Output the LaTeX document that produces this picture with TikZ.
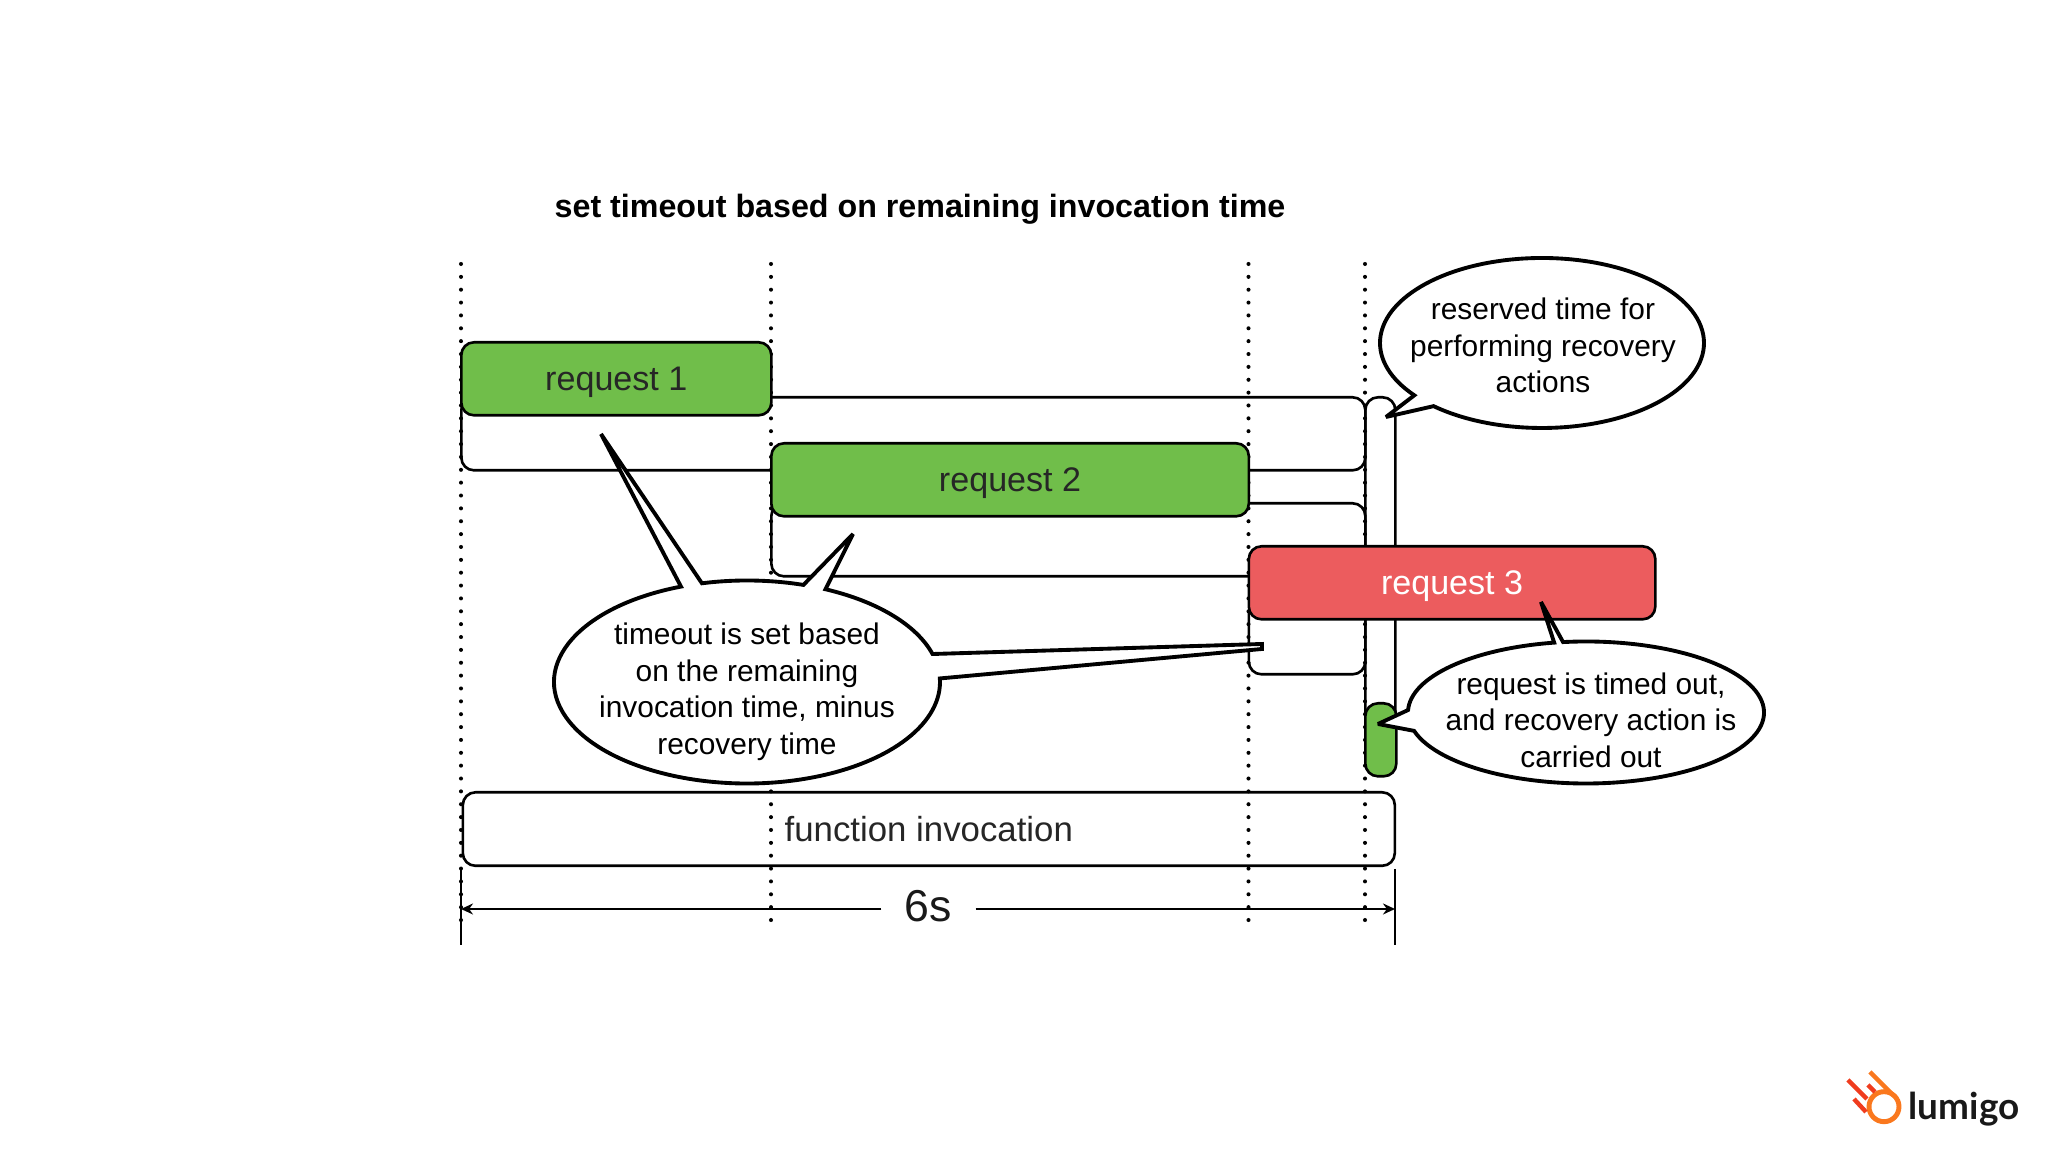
\documentclass[tikz,border=0pt]{standalone}
\usepackage{fontspec}
\setmainfont{Liberation Sans}
\newfontfamily\logofont{Lato}
\usepackage{xcolor}
\usetikzlibrary{positioning,arrows.meta,calc}
\definecolor{reqgreen}{RGB}{112,190,74}
\definecolor{reqred}{RGB}{236,92,94}
\definecolor{lumired}{RGB}{240,60,30}
\definecolor{lumiorange}{RGB}{250,120,30}
\newcommand{\guide}[2]{\coordinate (#1t) at (#2,8.88); \coordinate (#1b) at (#2,2.31); \draw[dots] (#1t) -- (#1b);}

\begin{document}
\begin{tikzpicture}[
  span/.style={draw, rounded corners=3.6pt, line width=0.75pt, inner sep=0pt, anchor=north west},
  req/.style={span, fill=reqgreen, font=\fontsize{9.7}{12}\selectfont, text=black!85, text depth=0pt},
  dots/.style={line width=1.15pt, line cap=round, dash pattern=on 0pt off 3.66pt},
  balloon/.style={draw, line width=1.1pt, fill=white, miter limit=3},
  say/.style={font=\fontsize{8.5}{10.4}\selectfont, align=center, inner sep=0pt},
  dimarr/.style={-{Stealth[length=1.2mm,width=1.1mm]}, line width=0.6pt},
  tickline/.style={line width=0.6pt},
  streak/.style={line width=1.25pt, lumired},
]
\useasboundingbox (0,0) rectangle (20.48,11.52);
\node[font=\fontsize{9.17}{11}\selectfont\bfseries, inner sep=0pt] (title) at (9.2,9.43) {set timeout based on remaining invocation time};

% Back: timeout spans and the reserved column
\node[span, minimum width=9.04cm, minimum height=0.73cm] (span1) at (4.60,7.56) {};
\node[span, minimum width=5.94cm, minimum height=0.73cm] (span2) at (7.70,6.50) {};
\node[span, minimum width=1.165cm, minimum height=0.73cm] (span3) at (12.475,5.52) {};
\node[span, minimum width=0.3cm, minimum height=3.6cm] (column) at (13.64,7.56) {};
\node[span, minimum width=9.32cm, minimum height=0.735cm, font=\fontsize{9.9}{12}\selectfont, text=black!85] (invoke) at (4.615,3.61) {function invocation};

% Guides
\guide{g1}{4.61}
\guide{g2}{7.71}
\guide{g3}{12.485}
\guide{g4}{13.65}

% Front: requests
\node[req, minimum width=3.1cm, minimum height=0.73cm] (r1) at (4.60,8.11) {request 1};
\node[req, minimum width=4.775cm, minimum height=0.73cm] (r2) at (7.70,7.10) {request 2};
\node[req, fill=reqred, text=white, minimum width=4.065cm, minimum height=0.73cm] (r3) at (12.475,6.07) {request 3};
\node[req, minimum width=0.31cm, minimum height=0.73cm] (rec) at (13.64,4.50) {};

% Balloons
\coordinate (b1) at (15.42,8.09);
\coordinate (tip1) at (13.86,7.35);
\draw[balloon] (b1) ++(228:1.62 and 0.85) arc[start angle=228, end angle=578, x radius=1.62, y radius=0.85] -- (tip1) -- cycle;
\node[say] (txt1) at (15.43,8.065) {reserved time for\\performing recovery\\actions};

\coordinate (b2) at (7.47,4.70);
\coordinate (tip2a) at (6.01,7.18);
\coordinate (tip2b) at (8.53,6.18);
\coordinate (tip2c) at (12.62,5.08);
\coordinate (tip2d) at (12.62,5.03);
\draw[balloon] ($(b2)+(16:1.93 and 1.015)$)
  arc[start angle=16, end angle=66, x radius=1.93, y radius=1.015] -- (tip2b)
  -- ($(b2)+(73:1.93 and 1.015)$)
  arc[start angle=73, end angle=103.5, x radius=1.93, y radius=1.015] -- (tip2a)
  -- ($(b2)+(110:1.93 and 1.015)$)
  arc[start angle=110, end angle=362, x radius=1.93, y radius=1.015] -- (tip2d) -- (tip2c) -- cycle;
\node[say] (txt2) at (7.47,4.60) {timeout is set based\\on the remaining\\invocation time, minus\\recovery time};

\coordinate (b3) at (15.86,4.395);
\coordinate (tip3a) at (15.41,5.50);
\coordinate (tip3b) at (13.78,4.28);
\draw[balloon] ($(b3)+(100.3:1.78 and 0.71)$)
  arc[start angle=100.3, end angle=178, x radius=1.78, y radius=0.71] -- (tip3b)
  -- ($(b3)+(195:1.78 and 0.71)$)
  arc[start angle=195, end angle=457.4, x radius=1.78, y radius=0.71] -- (tip3a) -- cycle;
\node[say] (txt3) at (15.91,4.32) {request is timed out,\\and recovery action is\\carried out};

% 6s span
\coordinate (tl1) at (4.61,2.83);
\coordinate (tl2) at (4.61,2.07);
\coordinate (tr1) at (13.95,2.83);
\coordinate (tr2) at (13.95,2.07);
\draw[tickline] (tl1) -- (tl2);
\draw[tickline] (tr1) -- (tr2);
\node[font=\fontsize{12.7}{14}\selectfont, inner sep=0pt, minimum width=0.93cm, text depth=1.7pt, text=black!90] (six) at (9.285,2.43) {6s};
\draw[dimarr] (six.west) -- (six.west -| tl1);
\draw[dimarr] (six.east) -- (six.east -| tr1);

% Logo
\coordinate (ring) at (18.84,0.453);
\draw[lumiorange, line width=1.4pt] (ring) circle[radius=0.15];
\draw[streak, lumiorange] (18.70,0.80) -- (18.94,0.56);
\draw[streak] (18.48,0.72) -- (18.67,0.53);
\draw[streak] (18.54,0.53) -- (18.66,0.40);
\draw[streak] (18.68,0.67) -- (18.75,0.60);
\node[font=\logofont\bfseries\fontsize{10.5}{12}\selectfont, inner sep=0pt, anchor=base west, text=black!90] (logo) at (19.08,0.32) {lumigo};
\end{tikzpicture}
\end{document}
